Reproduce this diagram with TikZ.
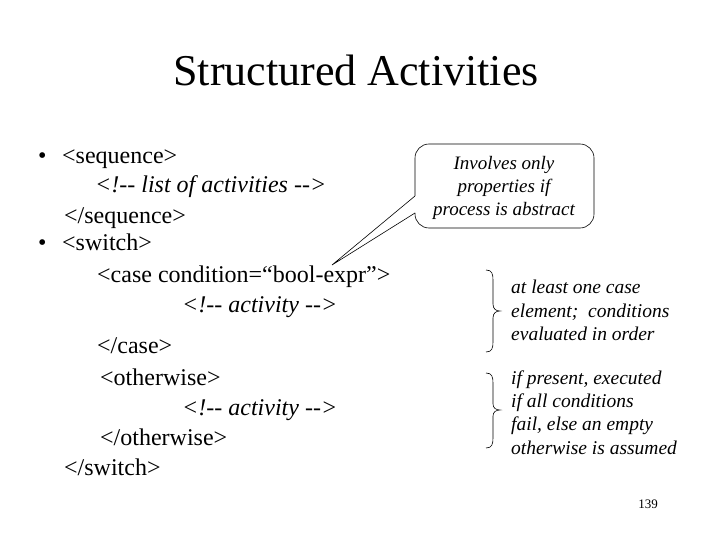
\documentclass[tikz,border=0pt]{standalone}
\usepackage{fontspec}
\setmainfont{Liberation Serif}
\begin{document}
\begin{tikzpicture}[x=1pt,y=-1pt,
  body/.style={anchor=base west,inner sep=0pt,font=\fontsize{24}{28}\selectfont},
  note/.style={anchor=base west,inner sep=0pt,font=\fontsize{19.5}{22}\selectfont\itshape},
  brc/.style={line width=0.6pt}]
\useasboundingbox (0,0) rectangle (720,540);
\node[anchor=base,inner sep=0pt,font=\fontsize{44}{48}\selectfont] (title) at (356,86) {Structured Activities};
\node[body] (b1) at (38,164) {\textbullet};
\node[body] (l1) at (62,164) {<sequence>};
\node[body] (l2) at (95,193) {\itshape <!{-}{-} list of activities {-}{-}>};
\node[body] (l3) at (64,223) {</sequence>};
\node[body] (b2) at (38,251) {\textbullet};
\node[body] (l4) at (62,251) {<switch>};
\node[body] (l5) at (97,282) {<case condition=“bool-expr”>};
\node[body] (l6) at (182,312) {\itshape <!{-}{-} activity {-}{-}>};
\node[body] (l7) at (97,353) {</case>};
\node[body] (l8) at (100,385) {<otherwise>};
\node[body] (l9) at (182,415) {\itshape <!{-}{-} activity {-}{-}>};
\node[body] (l10) at (100,445) {</otherwise>};
\node[body] (l11) at (64,475) {</switch>};
% callout
\draw[line width=0.6pt,rounded corners=14pt] (415,196) coordinate (ca) -- (415,144) -- (594,144) -- (594,228) -- (415,228) -- (415,213);
\draw[line width=0.6pt] (415,213) coordinate (cb) -- (332,265) coordinate (tip) -- (ca);
\node[anchor=center,align=center,inner sep=0pt,font=\fontsize{19}{23}\selectfont\itshape] (callout) at (504,188) {Involves only\\properties if\\process is abstract};
% braces
\draw[brc] (486,270) .. controls (492,270) and (493,274) .. (493,280) -- (493,304) .. controls (493,309) and (496,311) .. (500,311) .. controls (496,311) and (493,313) .. (493,318) -- (493,342) .. controls (493,348) and (492,352) .. (486,352);
\draw[brc] (486,373) .. controls (492,373) and (493,377) .. (493,383) -- (493,404) .. controls (493,408) and (496,410) .. (500,410) .. controls (496,410) and (493,412) .. (493,416) -- (493,438) .. controls (493,444) and (492,448) .. (486,448);
\node[note] (n1) at (511,293) {at least one case};
\node[note] (n2) at (511,317) {element;~ conditions};
\node[note] (n3) at (511,340) {evaluated in order};
\node[note] (n4) at (511,384) {if present, executed};
\node[note] (n5) at (511,407) {if all conditions};
\node[note] (n6) at (511,430) {fail, else an empty};
\node[note] (n7) at (511,454) {otherwise is assumed};
\node[anchor=base,inner sep=0pt,font=\fontsize{13}{15}\selectfont] (pg) at (648,508) {139};
\end{tikzpicture}
\end{document}
